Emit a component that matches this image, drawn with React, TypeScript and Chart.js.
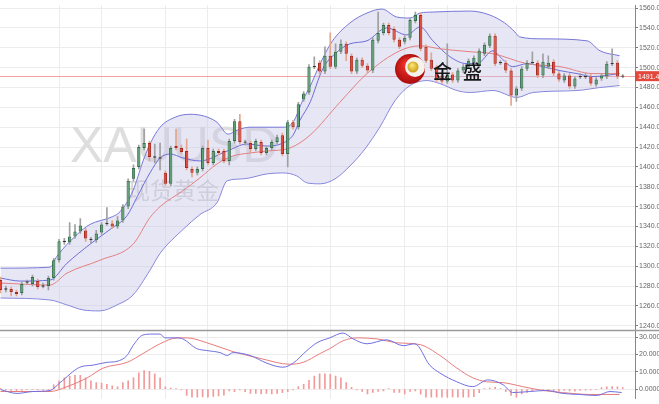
import { useEffect, useRef } from 'react';
import { Chart, registerables } from 'chart.js';
Chart.register(...registerables);

// ---- candle data ----
const OPEN = [1286,1277,1277,1274,1273,1284,1282,1285,1280,1280,1288,1306,1325,1324,1330,1335,1336,1327,1326,1334,1343,1343,1340,1346,1360,1388,1400,1419,1424,1410,1409,1394,1383,1421,1419,1416,1398,1394,1398,1419,1404,1416,1416,1406,1426,1446,1425,1424,1418,1425,1414,1419,1425,1432,1413,1445,1440,1468,1475,1501,1505,1496,1512,1501,1516,1524,1512,1496,1508,1502,1497,1527,1535,1543,1539,1528,1526,1530,1547,1553,1521,1508,1500,1492,1486,1493,1487,1497,1501,1505,1502,1514,1522,1532,1505,1505,1497,1472,1479,1499,1505,1505,1492,1501,1506,1494,1487,1492,1481,1491,1491,1491,1483,1489,1491,1504,1505,1491.42];
const CLOSE = [1276,1277,1274,1272,1282,1284,1289,1279,1280,1288,1306,1325,1325,1330,1335,1341,1328,1327,1333,1342,1343,1340,1346,1360,1386,1399,1420,1424,1410,1410,1409,1383,1419,1419,1415,1399,1394,1398,1419,1404,1416,1414,1406,1426,1446,1425,1425,1418,1426,1414,1419,1425,1430,1413,1445,1440,1463,1474,1501,1501,1496,1512,1501,1516,1524,1514,1496,1508,1502,1497,1528,1535,1543,1535,1528,1521,1530,1548,1553,1519,1507,1499,1488,1486,1493,1487,1497,1501,1507,1510,1517,1523,1532,1504,1505,1497,1472,1479,1499,1505,1505,1492,1506,1505,1494,1488,1492,1481,1489,1491,1491,1484,1488,1492,1504,1504,1491,1491.42];
const HIGH = [1289,1280,1279,1276,1284,1286,1291,1287,1283,1290,1308,1327,1328,1344,1342,1348,1338,1329,1336,1344,1359,1346,1350,1362,1388,1402,1422,1438,1426,1423,1424,1396,1421,1438,1422,1428,1400,1400,1421,1427,1418,1418,1418,1428,1448,1453,1427,1426,1428,1427,1421,1427,1432,1434,1447,1447,1465,1476,1503,1511,1507,1521,1535,1524,1528,1526,1514,1510,1510,1504,1530,1556,1545,1545,1541,1530,1532,1550,1556,1555,1523,1515,1502,1495,1524,1495,1499,1503,1509,1512,1519,1525,1534,1534,1507,1507,1499,1481,1501,1507,1516,1507,1514,1512,1508,1496,1494,1494,1491,1494,1494,1493,1490,1494,1506,1519,1507,1493];
const LOW = [1273,1274,1270,1270,1271,1282,1280,1277,1278,1276,1286,1304,1322,1322,1328,1333,1325,1323,1324,1332,1341,1338,1338,1344,1358,1386,1398,1417,1406,1404,1397,1381,1381,1417,1413,1397,1390,1392,1396,1402,1402,1412,1404,1402,1424,1423,1422,1415,1416,1412,1412,1417,1423,1411,1400,1438,1438,1466,1473,1499,1494,1494,1499,1499,1514,1507,1494,1494,1500,1495,1495,1525,1533,1533,1526,1519,1524,1528,1545,1517,1505,1497,1486,1484,1484,1485,1485,1495,1499,1503,1500,1512,1520,1502,1503,1495,1462,1466,1477,1497,1503,1490,1490,1499,1492,1486,1485,1479,1479,1489,1489,1482,1481,1487,1489,1502,1489,1490];

// ---- indicator lines: [candle index, value] ----
const BAND_UPPER = [[0,1298],[9.3,1299],[10.6,1310],[14.4,1332],[16.8,1342],[21.1,1350],[22.5,1355],[24.9,1376],[26.8,1406],[28.1,1423],[30,1440],[32.8,1450],[35.6,1453],[38.4,1451],[40.7,1445],[42.8,1433],[44.5,1437],[46.9,1440],[53.1,1440],[55,1445],[56.9,1468],[58.2,1481],[60.1,1504],[62.3,1526],[65.7,1545],[68.9,1555],[71.7,1559],[74.5,1551],[77,1550],[78.9,1555],[81.3,1556],[88.3,1557],[92,1553],[94.8,1545],[96.7,1536],[97.6,1531],[102,1529],[110.3,1527],[112.7,1517],[116.4,1512]];
const BAND_LOWER = [[0,1268],[9.3,1266],[12.5,1261],[15.5,1256],[18.7,1255],[21.9,1261],[24.9,1271],[28.1,1296],[30,1313],[34.3,1337],[37.5,1352],[40.7,1364],[42.6,1386],[45.6,1388],[50.1,1393],[53.1,1394],[55.7,1391],[57.6,1384],[60.1,1383],[62.9,1388],[65.7,1401],[68.5,1418],[71.3,1440],[74.2,1467],[77,1482],[80.2,1487],[82.6,1484],[85.8,1477],[88.3,1475],[92.6,1477],[97.1,1470],[100.1,1475],[108.4,1477],[112.7,1480],[116.4,1482]];
const MA_SLOW = [[0,1283],[9.3,1281],[12.5,1293],[18.7,1306],[24.9,1322],[28.1,1349],[30,1360],[34.3,1376],[37.5,1389],[40.7,1403],[43.7,1411],[46.9,1414],[50.1,1416],[54.4,1419],[58.2,1432],[63.8,1465],[68.9,1494],[75.1,1517],[78.9,1522],[82.6,1519],[88.3,1516],[92.6,1514],[99,1504],[105.2,1501],[111.4,1494],[116.4,1494]];
const MA_FAST = [[0,1288],[3.7,1285],[9.3,1286],[12.5,1303],[16.8,1322],[20.6,1337],[23.8,1351],[25.8,1371],[28.1,1394],[30,1409],[31.9,1413],[34.3,1409],[37.5,1406],[42.6,1416],[46.3,1423],[50.1,1421],[53.1,1424],[55,1432],[56.3,1447],[58.2,1465],[60.6,1499],[62.9,1514],[65.7,1524],[68.9,1527],[72.6,1540],[76.4,1533],[78.9,1541],[81.3,1527],[84.5,1511],[87.7,1504],[89.6,1504],[92.6,1517],[93.9,1511],[96.3,1501],[99,1504],[102,1501],[105.2,1497],[108.4,1494],[111.4,1491],[116.4,1494]];

// ---- MACD ----
const MACD_DIF = [[0,-0.3],[3.1,-2.5],[6.1,-1.4],[9.3,-0.8],[11.2,3.7],[14.9,12.6],[17.4,13.8],[20,15.4],[21.9,16],[23.8,19.4],[24.9,25],[26.8,31.2],[28.7,31.7],[30,31.7],[30.9,29.5],[33.2,29.5],[34.3,28.9],[36.9,23.3],[38.8,22.2],[41.3,21],[42.6,19.4],[43.7,21],[46.9,19.4],[50.1,14.9],[53.1,12.6],[55,14.9],[57.6,22.2],[59.5,26.7],[61.9,29.5],[64.4,32.3],[66.3,28.9],[68.9,26.1],[72.6,28.4],[75.7,25],[77.9,26.1],[80.7,13.8],[82.6,9.3],[85.8,4.2],[88.8,1.4],[91.6,5.3],[94.5,2.5],[96.3,-2.0],[99.5,-1.4],[102.7,-0.8],[105.7,-2.5],[108.9,-3.1],[112.1,-3.7],[114.6,-1.4],[116.8,-2.0]];
const MACD_DEA = [[0,-1.4],[9.3,-1.4],[12.5,1.4],[16.3,6.5],[19.3,12.1],[23.8,15.4],[26.8,20.5],[30,26.1],[33.2,29.5],[35.1,29.5],[38.8,26.7],[43.7,21.6],[48.8,17.7],[54.4,14.3],[56.9,15.4],[60.1,20.5],[61.9,23.3],[64.4,27.8],[67,29.5],[70.8,28.9],[74.5,26.7],[78.9,25.6],[82.6,19.4],[85.8,12.1],[88.8,6.5],[91.4,4.2],[94.5,3.7],[98.2,1.4],[102,-0.8],[105.7,-2.0],[110.8,-3.1],[116.4,-3.1]];
const MACD_HIST = [0.4,-0.5,-0.8,-0.9,-0.7,-0.4,-0.3,-0.5,-0.6,-0.3,
  2.5,4.7,6.5,7.5,7.9,7.9,6.5,4.7,3.7,3.4,
  2.8,1.9,1.3,3.7,4.7,6.5,9.4,10.7,10.3,8.8,
  6.5,1.3,0.6,0.3,-0.5,-3.7,-4.7,-4.7,-4.5,-4.7,
  -4.3,-4.0,-3.5,-1.0,-1.5,-0.5,-1.5,-2.5,-2.5,-2.8,
  -2.5,-2.8,-2.5,-2.0,-1.5,-0.5,1.5,2.8,5.0,7.5,
  8.8,8.8,8.5,7.5,6.5,3.7,1.0,-0.5,-1.3,-2.8,
  -1.9,-1.3,-1.0,0.2,-1.9,-1.9,-2.8,-1.3,-1.0,-3.0,
  -4.7,-4.7,-4.6,-4.7,-4.7,-4.5,-4.7,-4.7,-4.6,-4.4,
  -2.0,0.3,0.6,1.0,0.3,-1.5,-3.7,-4.7,-2.8,-1.9,
  -1.0,-0.3,-0.8,-0.5,-1.0,-1.2,-0.8,-1.0,-1.2,-0.8,
  -0.6,-0.5,-0.3,0.8,1.3,1.5,1.3,0.8];

const PRICE_TICKS = [1240,1260,1280,1300,1320,1340,1360,1380,1400,1420,1440,1460,1480,1500,1520,1540,1560];
const MACD_TICKS = [0,10,20,30];
const GRID_X = [11,19,31,39,54,62,76,84,97,105];
const LAST_PRICE = 1491.42;
const SYMBOL = 'XAUUSD';
const SYMBOL_CN = '现货黄金';

const pts = (a: number[][]) => a.map(([x, y]) => ({ x, y }));

export default function App() {
  const ref = useRef<HTMLCanvasElement>(null);
  useEffect(() => {
    document.body.style.margin = '0';
    const canvas = ref.current!;
    const up = OPEN.map((o, i) => CLOSE[i] > o);
    const dn = OPEN.map((o, i) => CLOSE[i] < o);
    const bodyData = OPEN.map((o, i) => {
      const c = CLOSE[i];
      return { x: i, y: o === c ? [c - 0.7, c + 0.7] : [o, c] };
    });
    const wickData = OPEN.map((_, i) => ({ x: i, y: [LOW[i], HIGH[i]] }));
    const bodyBg = OPEN.map((_, i) => (up[i] ? '#5c9f73' : dn[i] ? '#e2493b' : '#333333'));
    const bodyBd = OPEN.map((_, i) => (up[i] ? '#2f6b46' : dn[i] ? '#a8281d' : '#333333'));
    const wickC = OPEN.map((_, i) => (dn[i] ? '#e3a58c' : '#a0a0a0'));

    const lineBase = {
      type: 'line' as const,
      pointRadius: 0,
      borderWidth: 1,
      cubicInterpolationMode: 'monotone' as const,
      yAxisID: 'y',
    };

    const deco = {
      id: 'deco',
      beforeDatasetsDraw(chart: any) {
        const c = chart.ctx;
        const ys = chart.scales.y;
        const area = chart.chartArea;
        c.save();
        c.fillStyle = '#dedede';
        c.font = '50px "Liberation Sans", Arial, sans-serif';
        c.textBaseline = 'alphabetic';
        c.fillText(SYMBOL, 70, 162);
        c.fillStyle = '#d4d4d4';
        c.font = '23px "Noto Sans CJK SC", sans-serif';
        c.fillText(SYMBOL_CN, 127, 199);
        const py = Math.round(ys.getPixelForValue(LAST_PRICE)) + 0.5;
        c.strokeStyle = '#f0a0a0';
        c.lineWidth = 1;
        c.beginPath();
        c.moveTo(area.left, py);
        c.lineTo(area.right, py);
        c.stroke();
        c.restore();
      },
      afterDraw(chart: any) {
        const c = chart.ctx;
        const ys = chart.scales.y;
        const area = chart.chartArea;
        c.save();
        const sy = ys.bottom;
        c.strokeStyle = '#9a9a9a';
        c.lineWidth = 1.5;
        c.beginPath();
        c.moveTo(0, sy);
        c.lineTo(chart.width, sy);
        c.stroke();
        const py = ys.getPixelForValue(LAST_PRICE);
        c.fillStyle = '#e2483c';
        c.fillRect(area.right, py - 5, chart.width - area.right, 10);
        c.fillStyle = '#ffffff';
        c.font = '7px "Liberation Sans", Arial, sans-serif';
        c.textBaseline = 'middle';
        c.fillText(LAST_PRICE.toFixed(2), area.right + 3, py + 0.5);
        const cx = 410, cy = 69;
        const g = c.createRadialGradient(cx - 4, cy - 5, 2, cx, cy, 16);
        g.addColorStop(0, '#f03028');
        g.addColorStop(1, '#a80c0c');
        c.fillStyle = g;
        c.beginPath();
        c.arc(cx, cy, 15, 0, Math.PI * 2);
        c.fill();
        c.fillStyle = '#f6f2ec';
        c.beginPath();
        c.arc(cx + 5, cy - 2, 10, 0, Math.PI * 2);
        c.fill();
        const g2 = c.createRadialGradient(cx + 2, cy - 4, 1, cx + 3, cy - 2, 6);
        g2.addColorStop(0, '#f8e070');
        g2.addColorStop(1, '#c89a10');
        c.fillStyle = g2;
        c.beginPath();
        c.arc(cx + 3, cy - 2, 5.5, 0, Math.PI * 2);
        c.fill();
        c.fillStyle = '#161616';
        c.font = '500 19px "Noto Sans CJK SC", sans-serif';
        c.textBaseline = 'alphabetic';
        c.fillText('金', 433, 79);
        c.fillText('盛', 463, 79);
        c.restore();
      },
    };

    const tickFont = { size: 7, family: '"Liberation Sans", Arial, sans-serif' };
    const yCommon = {
      type: 'linear' as const,
      position: 'right' as const,
      stack: 'panels',
      afterFit: (s: any) => { s.width = 24; },
      grid: { color: '#ececec', tickColor: '#777', tickLength: 3 },
      border: { display: true, color: '#888' },
    };

    const chart = new Chart(canvas, {
      type: 'bar',
      data: {
        datasets: [
          { ...lineBase, label: 'upper', data: pts(BAND_UPPER), borderColor: '#7878da', fill: '+1', backgroundColor: 'rgba(196,196,232,0.42)', order: 10 } as any,
          { ...lineBase, label: 'lower', data: pts(BAND_LOWER), borderColor: '#7878da', fill: false, order: 10 } as any,
          { ...lineBase, label: 'ma', data: pts(MA_SLOW), borderColor: '#e48080', fill: false, order: 7 } as any,
          { ...lineBase, label: 'fast', data: pts(MA_FAST), borderColor: '#6e6ed8', fill: false, order: 7 } as any,
          { type: 'bar', label: 'wick', data: wickData, backgroundColor: wickC, barThickness: 1, grouped: false, order: 5, yAxisID: 'y' } as any,
          { type: 'bar', label: 'body', data: bodyData, backgroundColor: bodyBg, borderColor: bodyBd, borderWidth: 1, borderSkipped: false, barPercentage: 0.62, categoryPercentage: 1, grouped: false, order: 4, yAxisID: 'y' } as any,
          { type: 'bar', label: 'hist', data: MACD_HIST.map((v, i) => ({ x: i, y: v })), backgroundColor: '#f29a9a', barThickness: 1, grouped: false, order: 5, yAxisID: 'yM' } as any,
          { ...lineBase, label: 'dif', data: pts(MACD_DIF), borderColor: '#7070e0', fill: false, order: 3, yAxisID: 'yM' } as any,
          { ...lineBase, label: 'dea', data: pts(MACD_DEA), borderColor: '#e87c7c', fill: false, order: 3, yAxisID: 'yM' } as any,
        ],
      },
      options: {
        responsive: false,
        animation: false,
        layout: { padding: 0 },
        plugins: { legend: { display: false }, tooltip: { enabled: false } },
        scales: {
          x: {
            type: 'linear',
            min: -0.1,
            max: 119.3,
            offset: false,
            afterBuildTicks: (s: any) => { s.ticks = GRID_X.map((v) => ({ value: v })); },
            ticks: { display: false },
            grid: { color: '#ececec', drawTicks: false, offset: false },
            border: { display: false },
          },
          y: {
            ...yCommon,
            stackWeight: 334,
            min: 1235.1,
            max: 1562.9,
            afterBuildTicks: (s: any) => { s.ticks = PRICE_TICKS.map((v) => ({ value: v })); },
            ticks: { color: '#666', padding: 1, autoSkip: false, font: tickFont, callback: (v: any) => Number(v).toFixed(2) },
          },
          yM: {
            ...yCommon,
            stackWeight: 70,
            min: -5.6,
            max: 33.7,
            afterBuildTicks: (s: any) => { s.ticks = MACD_TICKS.map((v) => ({ value: v })); },
            ticks: { color: '#666', padding: 1, autoSkip: false, font: tickFont, callback: (v: any) => Number(v).toFixed(4) },
          },
        },
      } as any,
      plugins: [deco],
    });
    return () => chart.destroy();
  }, []);
  return <canvas ref={ref} width={659} height={404} style={{ display: 'block' }} />;
}
